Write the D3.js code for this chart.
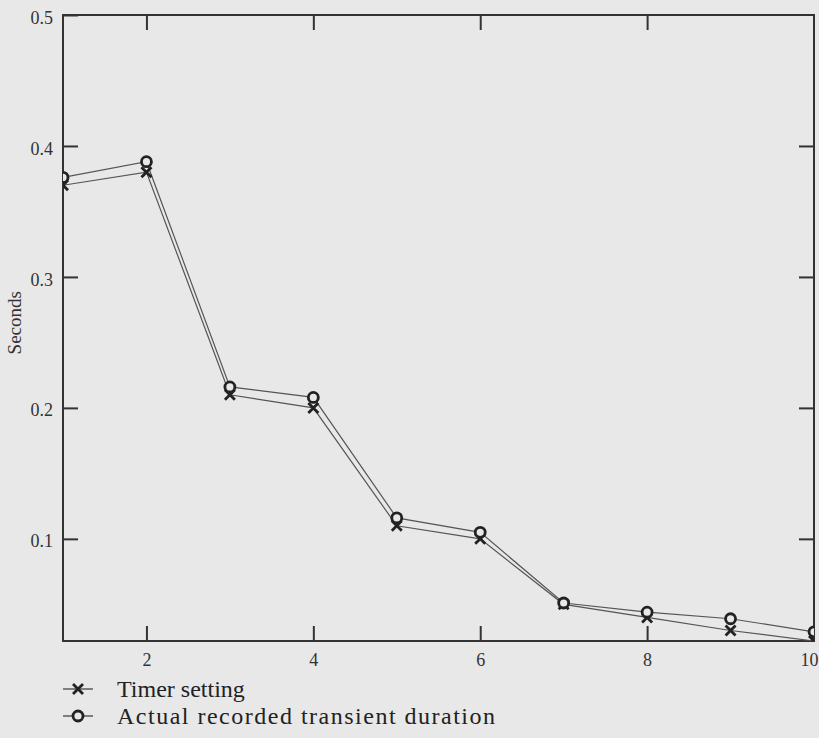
<!DOCTYPE html>
<html>
<head>
<meta charset="utf-8">
<script src="https://cdn.jsdelivr.net/npm/d3@7/dist/d3.min.js"></script>
<style>
	body { margin: 0; background: #e8e8e8; }
	svg { display: block; font-family: 'Liberation Serif', 'DejaVu Serif', serif; }
	.tick line { stroke: #333; stroke-width: 2; }
	.tick text { fill: #333; font-size: 18px; font-family: 'Liberation Serif', serif; }
</style>
</head>
<body>
<div id="chart"></div>
<script>
// duration setting number on x, seconds on y
const settings = [1, 2, 3, 4, 5, 6, 7, 8, 9, 10];
const timerSetting = [0.37, 0.38, 0.21, 0.20, 0.11, 0.10, 0.05, 0.04, 0.03, 0.022];
const actualDuration = [0.376, 0.388, 0.216, 0.208, 0.116, 0.105, 0.051, 0.044, 0.039, 0.029];
const xTicks = [2, 4, 6, 8, 10];
const yTicks = [0.1, 0.2, 0.3, 0.4, 0.5];
const legendLabels = ['Timer setting', 'Actual recorded transient duration'];

const width = 819,
	height = 738;

let x = d3.scaleLinear().domain([1, 10]).range([63, 814]);
let y = d3.scaleLinear().domain([0.022, 0.5]).range([641, 15]);

let svg = d3.select('#chart').append('svg')
			.attr('width', width)
			.attr('height', height);

svg.append('rect')
	.attr('width', width)
	.attr('height', height)
	.attr('fill', '#e8e8e8');

svg.append('defs').append('clipPath')
	.attr('id', 'plotClip')
	.append('rect')
	.attr('x', x(1))
	.attr('y', y(0.5))
	.attr('width', x(10) - x(1))
	.attr('height', y(0.022) - y(0.5));

// inward ticks on all four sides
let left = svg.append('g')
	.attr('transform', `translate(${x(1)},0)`)
	.call(d3.axisLeft(y).tickValues(yTicks).tickSize(-15).tickPadding(10).tickFormat(d3.format('.1f')));
left.selectAll('.tick text').attr('dy', '0.45em');

svg.append('g')
	.attr('transform', `translate(${x(10)},0)`)
	.call(d3.axisRight(y).tickValues(yTicks.slice(0, 4)).tickSize(-15).tickFormat(''));

let bottom = svg.append('g')
	.attr('transform', `translate(0,${y(0.022)})`)
	.call(d3.axisBottom(x).tickValues(xTicks).tickSize(-15).tickPadding(12));
bottom.selectAll('.tick line').filter((d) => d === 10).remove();
bottom.selectAll('.tick text').filter((d) => d === 10).attr('x', -5);

svg.append('g')
	.attr('transform', `translate(0,${y(0.5)})`)
	.call(d3.axisTop(x).tickValues(xTicks.slice(0, 4)).tickSize(-15).tickFormat(''));

svg.selectAll('.domain').remove();

svg.append('rect')
	.attr('x', x(1))
	.attr('y', y(0.5))
	.attr('width', x(10) - x(1))
	.attr('height', y(0.022) - y(0.5))
	.attr('fill', 'none')
	.attr('stroke', '#333')
	.attr('stroke-width', 2);

svg.append('text')
	.attr('transform', `translate(21,${y(0.265)}) rotate(-90)`)
	.attr('text-anchor', 'middle')
	.attr('font-size', 19)
	.attr('fill', '#333')
	.text('Seconds');

let line = d3.line()
	.x((d, i) => x(settings[i]))
	.y((d) => y(d));

let plot = svg.append('g').attr('clip-path', 'url(#plotClip)');

function drawCross(g, cx, cy) {
	g.append('path')
		.attr('d', `M${cx - 5},${cy - 5}L${cx + 5},${cy + 5}M${cx + 5},${cy - 5}L${cx - 5},${cy + 5}`)
		.attr('stroke', '#222')
		.attr('stroke-width', 2.8)
		.attr('fill', 'none');
}

function drawCircle(g, cx, cy) {
	g.append('circle')
		.attr('cx', cx)
		.attr('cy', cy)
		.attr('r', 5)
		.attr('fill', '#e8e8e8')
		.attr('stroke', '#222')
		.attr('stroke-width', 2.8);
}

[timerSetting, actualDuration].forEach((series) => {
	plot.append('path')
		.datum(series)
		.attr('d', line)
		.attr('fill', 'none')
		.attr('stroke', '#555')
		.attr('stroke-width', 1.2);
});

timerSetting.forEach((v, i) => drawCross(plot, x(settings[i]), y(v)));
actualDuration.forEach((v, i) => drawCircle(plot, x(settings[i]), y(v)));

// legend
let legend = svg.append('g');
legendLabels.forEach((label, i) => {
	let ly = 689 + i * 27;
	legend.append('line')
		.attr('x1', 63).attr('x2', 93)
		.attr('y1', ly).attr('y2', ly)
		.attr('stroke', '#444')
		.attr('stroke-width', 1.3);
	if(i === 0) drawCross(legend, 78, ly);
	else drawCircle(legend, 78, ly);
	legend.append('text')
		.attr('x', 117)
		.attr('y', ly + 8)
		.attr('font-size', 24)
		.attr('letter-spacing', i === 0 ? 0 : 1.5)
		.attr('fill', '#222')
		.text(label);
});
</script>
</body>
</html>
